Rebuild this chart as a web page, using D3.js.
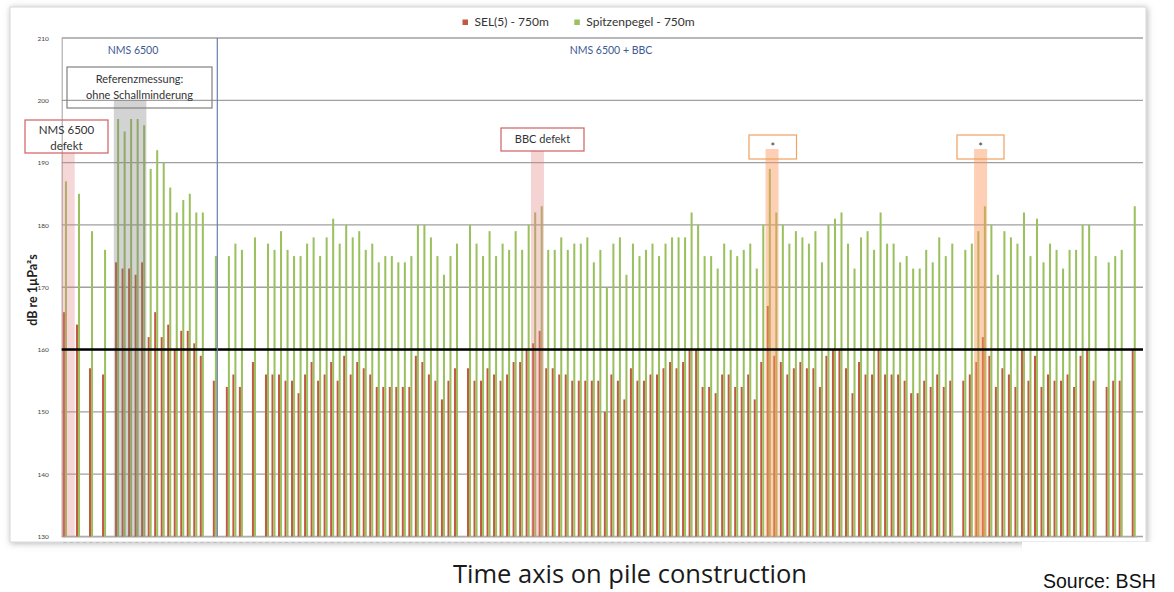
<!DOCTYPE html>
<html>
<head>
<meta charset="utf-8">
<script src="https://cdn.jsdelivr.net/npm/d3@7"></script>
<style>
  html, body { margin: 0; padding: 0; background: #fff; }
  svg { display: block; }
</style>
</head>
<body>
<svg id="chart" width="1174" height="592"></svg>
<script>
// Pile numbers along the construction timeline (one slot per pile, null = no measurement)
const piles = d3.range(1, 166);

// SEL(5) at 750 m, dB re 1µPa²s
const sel = [
  166, null, 164, null, 157, null, 156, null, 174, 173,
  173, 172, 174, 162, 166, 162, 164, 160, 163, 163,
  161, 159, null, 155, null, 154, 156, 154, null, 158,
  null, 156, 156, 156, 155, 155, 153, 156, 158, 155,
  156, 158, 155, 159, 156, 158, 157, 156, 154, 154,
  154, 154, 154, 154, 159, 158, 156, 155, 152, 155,
  157, null, 157, 155, 155, 157, 156, 155, 156, 158,
  158, 160, 161, 163, 157, 157, 156, 156, 155, 155,
  155, 155, 155, 150, 156, 155, 152, 157, 155, 155,
  156, 156, 157, 158, 157, 158, 160, 160, 154, 154,
  153, 156, 156, 154, 154, 156, 152, 158, 167, 159,
  158, 156, 157, 158, 157, 157, 154, 159, 160, 160,
  157, 153, 158, 156, 156, 160, 156, 156, 156, 155,
  153, 153, 155, 154, 156, 154, 155, null, 155, 156,
  158, 162, 159, 154, 157, 156, 154, 160, 155, 159,
  154, 156, 155, 155, 156, 154, 159, 160, 155, null,
  154, 155, 155, null, 160
];

// Spitzenpegel (peak level) at 750 m
const peak = [
  187, null, 185, null, 179, null, 176, null, 197, 195,
  197, 197, 196, 189, 192, 190, 186, 182, 184, 185,
  182, 182, null, 175, null, 175, 177, 176, null, 178,
  null, 177, 176, 179, 176, 175, 175, 177, 178, 175,
  178, 181, 177, 180, 178, 179, 176, 177, 174, 175,
  175, 174, 174, 175, 180, 180, 178, 175, 172, 175,
  177, null, 180, 177, 175, 179, 175, 177, 176, 179,
  176, 180, 182, 183, 176, 176, 178, 176, 177, 177,
  178, 174, 176, 170, 177, 178, 172, 177, 175, 176,
  177, 175, 177, 178, 178, 178, 182, 180, 175, 175,
  173, 177, 176, 175, 176, 177, 173, 180, 189, 182,
  180, 177, 179, 178, 177, 179, 174, 180, 181, 182,
  177, 173, 178, 179, 176, 182, 177, 177, 174, 175,
  173, 173, 176, 174, 178, 175, 177, null, 176, 177,
  179, 183, 180, 172, 179, 178, 177, 182, 175, 181,
  174, 177, 176, 173, 176, 176, 180, 180, 175, null,
  174, 175, 176, null, 183
];

const yTicks = [130, 140, 150, 160, 170, 180, 190, 200, 210];
const threshold = 160;

const seriesNames = ["SEL(5) - 750m", "Spitzenpegel - 750m"];
const seriesColors = ["#c25a43", "#9bc05e"];

// Highlighted pile ranges (first and last pile index, 0-based)
const highlights = [
  { from: 0,   to: 1,   top: 153, fill: "rgba(225,130,130,0.32)" },
  { from: 8,   to: 12,  top: 100, fill: "rgba(120,120,120,0.33)" },
  { from: 72,  to: 73,  top: 151, fill: "rgba(225,130,130,0.35)" },
  { from: 108, to: 109, top: 149, fill: "rgba(250,150,90,0.45)" },
  { from: 140, to: 141, top: 149, fill: "rgba(250,150,90,0.45)" }
];

const svg = d3.select("#chart");
const W = 1174, H = 592;

// Chart panel with soft shadow
const defs = svg.append("defs");
const shadow = defs.append("filter").attr("id", "shadow")
  .attr("x", "-5%").attr("y", "-5%").attr("width", "110%").attr("height", "110%");
shadow.append("feDropShadow").attr("dx", 1).attr("dy", 1)
  .attr("stdDeviation", 3).attr("flood-color", "#777").attr("flood-opacity", 0.55);

svg.append("rect")
  .attr("x", 10).attr("y", 7).attr("width", 1136).attr("height", 535)
  .attr("fill", "#fff").attr("stroke", "#d8d8d8").attr("filter", "url(#shadow)");

const plotL = 61.7, plotR = 1143;
const x = d3.scaleBand().domain(piles).range([plotL, plotL + piles.length * 6.517])
  .paddingInner(0.38).paddingOuter(0.19);
const xs = d3.scaleBand().domain([0, 1]).range([0, x.bandwidth()]);
const y = d3.scaleLinear().domain([130, 210]).range([536.5, 38]);

// Grid lines
svg.append("g").selectAll("line").data(yTicks).join("line")
  .attr("x1", plotL).attr("x2", plotR)
  .attr("y1", d => y(d)).attr("y2", d => y(d))
  .attr("stroke", "#a0a0a0").attr("stroke-width", 1.3);

// Y axis
const yAxis = svg.append("g").attr("transform", `translate(${plotL},0)`)
  .call(d3.axisLeft(y).tickValues(yTicks).tickSize(0).tickPadding(13));
yAxis.select(".domain").attr("stroke", "#a0a0a0");
yAxis.selectAll("text").attr("font-family", "Lato, sans-serif")
  .attr("font-size", 6.5).attr("fill", "#444");

// X axis (pile labels)
const xAxis = svg.append("g").attr("transform", `translate(0,${y(130)})`)
  .call(d3.axisBottom(x).tickSize(0).tickPadding(3).tickFormat(() => "–"));
xAxis.select(".domain").attr("stroke", "#bbb");
xAxis.selectAll("text").attr("font-size", 6).attr("fill", "#9a9a9a");

// Bars
const rows = piles.map((p, i) => ({ p, v: [sel[i], peak[i]] }));
const groups = svg.append("g").selectAll("g").data(rows).join("g")
  .attr("transform", d => `translate(${x(d.p)},0)`);
groups.selectAll("rect")
  .data(d => d.v.map((v, k) => ({ v, k })).filter(e => e.v != null))
  .join("rect")
  .attr("x", e => xs(e.k)).attr("width", xs.bandwidth())
  .attr("y", e => y(e.v)).attr("height", e => y(130) - y(e.v))
  .attr("fill", e => seriesColors[e.k]);

// Highlight columns over the bars
const step = x.step();
svg.append("g").selectAll("rect").data(highlights).join("rect")
  .attr("x", d => x(piles[d.from]) - step * 0.19)
  .attr("width", d => x(piles[d.to]) - x(piles[d.from]) + step)
  .attr("y", d => d.top).attr("height", d => y(130) - d.top)
  .attr("fill", d => d.fill);

// Threshold line at 160 dB
svg.append("line")
  .attr("x1", plotL).attr("x2", plotR)
  .attr("y1", y(threshold)).attr("y2", y(threshold))
  .attr("stroke", "#000").attr("stroke-width", 2.4);

// Phase separator
svg.append("line")
  .attr("x1", 217.3).attr("x2", 217.3).attr("y1", y(210)).attr("y2", y(130))
  .attr("stroke", "#6a7fb0").attr("stroke-width", 1.2);

const font = "Lato, 'Open Sans', sans-serif";
svg.append("text").attr("x", 133).attr("y", 54).attr("text-anchor", "middle")
  .attr("font-family", font).attr("font-size", 10.5).attr("fill", "#3d5a94").text("NMS 6500");
svg.append("text").attr("x", 611).attr("y", 54).attr("text-anchor", "middle")
  .attr("font-family", font).attr("font-size", 10.5).attr("fill", "#3d5a94").text("NMS 6500 + BBC");

// Annotation boxes
function box(x0, y0, w, h, stroke, lines, cy, fs) {
  svg.append("rect").attr("x", x0).attr("y", y0).attr("width", w).attr("height", h)
    .attr("fill", "none").attr("stroke", stroke).attr("stroke-width", 1.2);
  lines.forEach((t, k) => {
    svg.append("text").attr("x", x0 + w / 2).attr("y", cy + k * 16)
      .attr("text-anchor", "middle").attr("font-family", font)
      .attr("font-size", fs).attr("fill", "#333").text(t);
  });
}
box(67, 67, 145, 41, "#808080", ["Referenzmessung:", "ohne Schallminderung"], 83, 11);
box(25, 120, 83, 33, "#d06060", ["NMS 6500", "defekt"], 134, 11.5);
box(501, 128, 83, 23, "#d06060", ["BBC defekt"], 143, 11);
box(749, 135, 47.5, 24, "#f0a060", ["*"], 151, 11);
box(957, 135, 47, 24, "#f0a060", ["*"], 151, 11);

// Y axis title
svg.append("text")
  .attr("transform", "translate(37,290) rotate(-90)")
  .attr("text-anchor", "middle").attr("font-family", font)
  .attr("font-size", 12.5).attr("font-weight", "bold").attr("fill", "#222")
  .text("dB re 1µPa²s");

// Legend
const legend = svg.append("g").attr("font-family", font).attr("font-size", 12).attr("fill", "#333");
const legendX = [462.5, 574.3];
seriesNames.forEach((n, k) => {
  legend.append("rect").attr("x", legendX[k]).attr("y", 19.5).attr("width", 5.5).attr("height", 5.5)
    .attr("fill", seriesColors[k]);
  legend.append("text").attr("x", legendX[k] + 12).attr("y", 26).text(n);
});

// Cover under the right part of the panel
svg.append("rect").attr("x", 1022).attr("y", 542).attr("width", W - 1022).attr("height", H - 542)
  .attr("fill", "#fff");

// Captions
svg.append("text").attr("x", 630).attr("y", 583).attr("text-anchor", "middle")
  .attr("font-family", "'Open Sans', sans-serif").attr("font-size", 25.5).attr("fill", "#1a1a1a")
  .text("Time axis on pile construction");
svg.append("text").attr("x", 1043).attr("y", 588)
  .attr("font-family", "'Liberation Sans', Arial, sans-serif").attr("font-size", 19.5).attr("fill", "#111")
  .text("Source: BSH");
</script>
</body>
</html>
